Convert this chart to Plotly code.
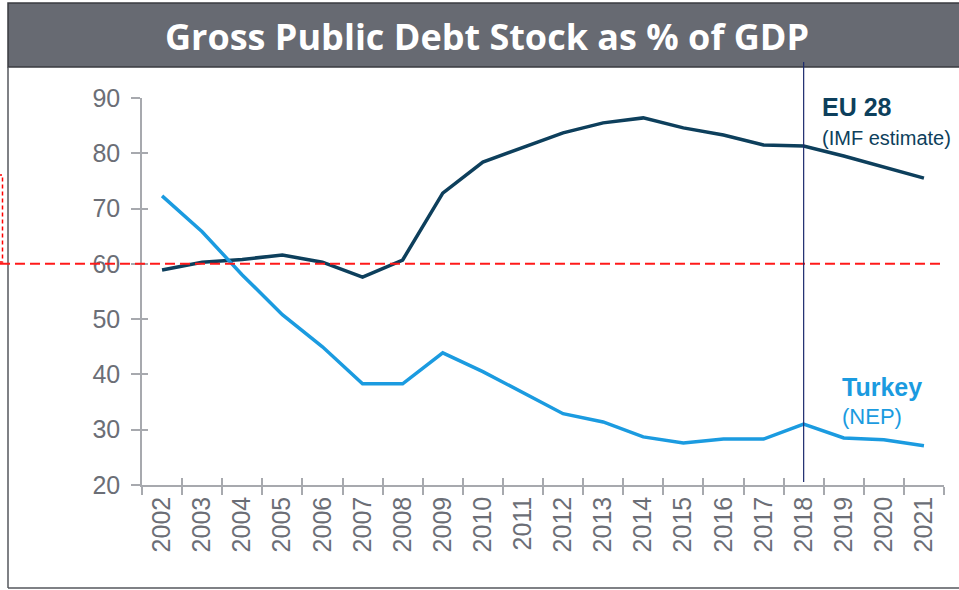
import plotly.graph_objects as go

years = [str(y) for y in range(2002, 2022)]
eu28 = [58.9, 60.3, 60.8, 61.6, 60.3, 57.6, 60.7, 72.8, 78.4, 81.1,
        83.7, 85.5, 86.4, 84.6, 83.3, 81.5, 81.3, 79.5, 77.5, 75.5]
turkey = [72.3, 65.8, 58.0, 50.8, 45.0, 38.3, 38.3, 43.9, 40.5, 36.7,
          32.9, 31.4, 28.7, 27.6, 28.3, 28.3, 31.0, 28.5, 28.2, 27.1]
y_ticks = [20, 30, 40, 50, 60, 70, 80, 90]
threshold = 60
split_year = "2018"
title_text = "Gross Public Debt Stock as % of GDP"

W, H = 959, 590
L, R, T, B = 142, 15, 98, 105
PW, PH = W - L - R, H - T - B

def px(x):
    return (x - L) / PW

def py(y):
    return (H - B - y) / PH

EU_C = "#0d3f5c"
TR_C = "#1b9be0"
AX_C = "#a7a9ae"
TXT_C = "#6b6e76"

fig = go.Figure()
fig.add_trace(go.Scatter(x=years, y=eu28, mode="lines", line=dict(color=EU_C, width=3.5),
                         showlegend=False, hoverinfo="skip"))
fig.add_trace(go.Scatter(x=years, y=turkey, mode="lines", line=dict(color=TR_C, width=3.5),
                         showlegend=False, hoverinfo="skip"))
# invisible trace to drive the overlay axes (crossing ticks)
fig.add_trace(go.Scatter(x=years, y=eu28, mode="lines", line=dict(width=0), opacity=0,
                         xaxis="x2", yaxis="y2", showlegend=False, hoverinfo="skip"))

axfont = dict(family="Liberation Sans, Arial", size=25, color=TXT_C)
fig.update_layout(
    width=W, height=H,
    margin=dict(l=L, r=R, t=T, b=B, pad=0),
    paper_bgcolor="white", plot_bgcolor="white",
    xaxis=dict(type="category", categoryorder="array", categoryarray=years,
               range=[-0.5, len(years) - 0.5],
               showgrid=False, zeroline=False, showline=True, linecolor=AX_C, linewidth=1.5,
               ticks="outside", ticklen=8, tickwidth=1.5, tickcolor=AX_C, tickson="boundaries",
               tickangle=-90, tickfont=axfont),
    yaxis=dict(range=[20, 90], tickvals=y_ticks, showgrid=False, zeroline=False,
               showline=True, linecolor=AX_C, linewidth=1.5,
               ticks="outside", ticklen=9, tickwidth=1.5, tickcolor=AX_C,
               tickfont=axfont, ticklabelstandoff=6),
    xaxis2=dict(type="category", categoryorder="array", categoryarray=years,
                overlaying="x", matches="x", range=[-0.5, len(years) - 0.5],
                showgrid=False, zeroline=False, showline=False,
                ticks="inside", ticklen=7, tickwidth=1.5, tickcolor=AX_C, tickson="boundaries",
                showticklabels=False),
    yaxis2=dict(overlaying="y", matches="y", range=[20, 90], tickvals=y_ticks,
                showgrid=False, zeroline=False, showline=False,
                ticks="inside", ticklen=6, tickwidth=1.5, tickcolor=AX_C, showticklabels=False),
)

shapes = []
# title bar
shapes.append(dict(type="rect", xref="paper", yref="paper",
                   x0=px(8), x1=px(975), y0=py(67), y1=py(3),
                   fillcolor="#676a72", line=dict(color="#3a3b40", width=1.5), layer="below"))
# frame left and bottom
shapes.append(dict(type="line", xref="paper", yref="paper",
                   x0=px(8), x1=px(8), y0=py(67), y1=py(588),
                   line=dict(color="#55575c", width=1.5)))
shapes.append(dict(type="line", xref="paper", yref="paper",
                   x0=px(8), x1=px(975), y0=py(588), y1=py(588),
                   line=dict(color="#55575c", width=1.5)))
# red dashed box at far left
shapes.append(dict(type="rect", xref="paper", yref="paper",
                   x0=px(-50), x1=px(2.5), y0=py(262), y1=py(175),
                   line=dict(color="#ff0000", width=1.5, dash="4px,3px")))
# 60% threshold
shapes.append(dict(type="line", xref="paper", yref="y",
                   x0=px(0), x1=px(945), y0=threshold, y1=threshold,
                   line=dict(color="#ff1a1a", width=2, dash="10px,5px")))
# 2018 separator
split_idx = years.index(split_year)
shapes.append(dict(type="line", xref="x", yref="paper",
                   x0=split_idx, x1=split_idx, y0=py(482), y1=py(62),
                   line=dict(color="#1c2b6e", width=1.2), layer="above"))
fig.update_layout(shapes=shapes)

ann = []
ann.append(dict(text="<b>" + title_text + "</b>", xref="paper", yref="paper",
                x=px(487), y=py(36), xanchor="center", yanchor="middle", showarrow=False,
                font=dict(family="Open Sans", size=36, color="white")))
ann.append(dict(text="<b>EU 28</b>", xref="paper", yref="paper",
                x=px(820), y=py(107), xanchor="left", yanchor="middle", showarrow=False,
                font=dict(family="Liberation Sans, Arial", size=25, color=EU_C)))
ann.append(dict(text="(IMF estimate)", xref="paper", yref="paper",
                x=px(820), y=py(138), xanchor="left", yanchor="middle", showarrow=False,
                font=dict(family="Liberation Sans, Arial", size=20, color=EU_C)))
ann.append(dict(text="<b>Turkey</b>", xref="paper", yref="paper",
                x=px(840), y=py(387), xanchor="left", yanchor="middle", showarrow=False,
                font=dict(family="Liberation Sans, Arial", size=25, color=TR_C)))
ann.append(dict(text="(NEP)", xref="paper", yref="paper",
                x=px(840), y=py(416), xanchor="left", yanchor="middle", showarrow=False,
                font=dict(family="Liberation Sans, Arial", size=22, color=TR_C)))
fig.update_layout(annotations=ann)

fig.write_html("out.html")
